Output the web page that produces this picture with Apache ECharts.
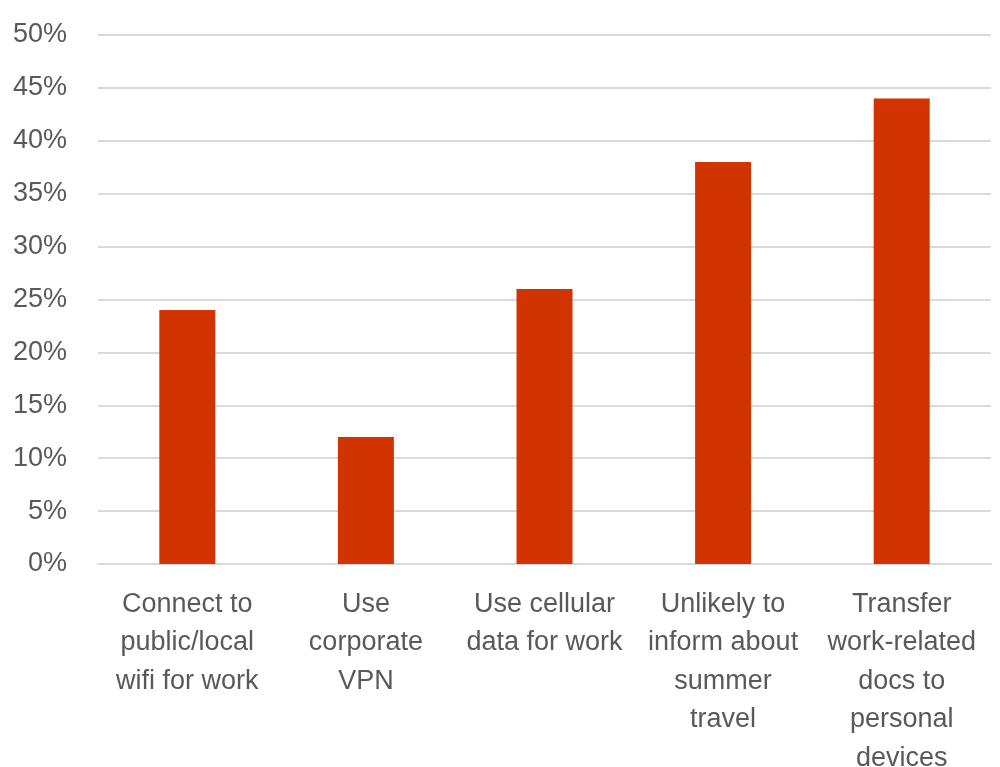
<!DOCTYPE html>
<html>
<head>
<meta charset="utf-8">
<script src="https://cdn.jsdelivr.net/npm/echarts@6/dist/echarts.min.js"></script>
<style>
  html, body { margin: 0; padding: 0; background: #fff; overflow: hidden; }
  #chart { width: 1000px; height: 767px; }
</style>
</head>
<body>
<div id="chart"></div>
<script>
const categories = [
  "Connect to\npublic/local\nwifi for work",
  "Use\ncorporate\nVPN",
  "Use cellular\ndata for work",
  "Unlikely to\ninform about\nsummer\ntravel",
  "Transfer\nwork-related\ndocs to\npersonal\ndevices",
];
const values = [24, 12, 26, 38, 44];

const textColor = "#595959";
const font = "Liberation Sans";

const chart = echarts.init(document.getElementById("chart"));
chart.setOption({
  animation: false,
  grid: { top: 35, bottom: 203, left: 98, right: 9, outerBoundsMode: "none", containLabel: false },
  xAxis: {
    type: "category",
    data: categories,
    axisLine: { lineStyle: { color: "#D9D9D9", width: 2 } },
    axisTick: { show: false },
    axisLabel: {
      interval: 0,
      margin: 21,
      color: textColor,
      fontFamily: font,
      fontSize: 27,
      lineHeight: 38.5,
    },
  },
  yAxis: {
    type: "value",
    min: 0,
    max: 50,
    interval: 5,
    axisLine: { show: false },
    axisTick: { show: false },
    splitLine: { lineStyle: { color: "#D9D9D9", width: 2 } },
    axisLabel: {
      margin: 31,
      color: textColor,
      fontFamily: font,
      fontSize: 27,
      formatter: "{value}%",
    },
  },
  series: [
    {
      type: "bar",
      data: values,
      barWidth: 56,
      itemStyle: { color: "#D13400" },
    },
  ],
});
</script>
</body>
</html>
